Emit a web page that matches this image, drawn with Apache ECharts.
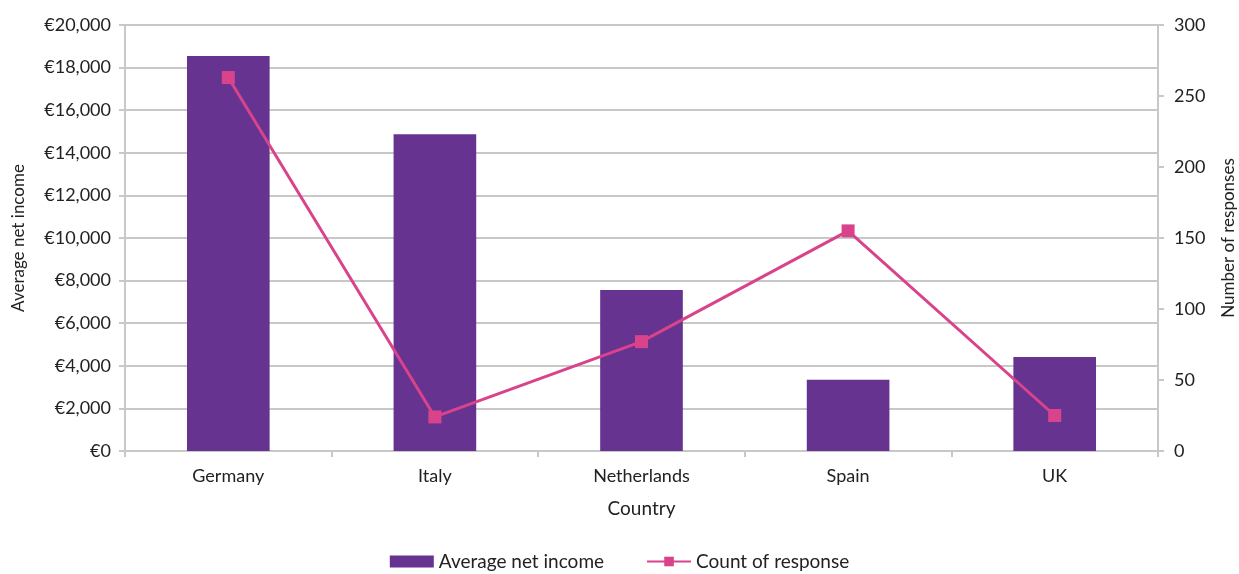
<!DOCTYPE html>
<html><head><meta charset="utf-8">
<script src="https://cdn.jsdelivr.net/npm/echarts@6/dist/echarts.min.js"></script>
<style>html,body{margin:0;padding:0;background:#fff}#c{width:1239px;height:574px}</style>
</head><body><div id="c"></div>
<script>
const categories = ["Germany", "Italy", "Netherlands", "Spain", "UK"];
const incomeValues = [18550, 14870, 7560, 3340, 4410];
const responseValues = [263, 24, 77, 155, 25];

const font = "Lato";
const chart = echarts.init(document.getElementById('c'));
chart.setOption({
  animation: false,
  textStyle: { fontFamily: font },
  grid: { left: 125, right: 81, top: 25, bottom: 123, containLabel: false, outerBoundsMode: 'none' },
  legend: {
    bottom: -2, left: 'center',
    itemWidth: 44, itemHeight: 12, itemGap: 42,
    textStyle: { fontFamily: font, fontSize: 19, color: '#222' },
    data: [
      { name: 'Average net income', icon: 'rect' },
      { name: 'Count of response' }
    ]
  },
  xAxis: {
    type: 'category', data: categories,
    name: 'Country', nameLocation: 'middle', nameGap: 48,
    nameTextStyle: { fontFamily: font, fontSize: 19, color: '#222' },
    axisLine: { lineStyle: { color: '#c8c8c8', width: 2 } },
    axisTick: { show: true, length: 6, lineStyle: { color: '#c8c8c8', width: 2 } },
    axisLabel: { fontFamily: font, fontSize: 18, color: '#222', margin: 16 }
  },
  yAxis: [
    {
      type: 'value', min: 0, max: 20000, interval: 2000,
      name: 'Average net income', nameLocation: 'middle', nameGap: 98, nameRotate: 90,
      nameTextStyle: { fontFamily: font, fontSize: 17, color: '#222' },
      axisLine: { show: true, lineStyle: { color: '#c8c8c8', width: 2 } },
      axisTick: { show: true, length: 6, lineStyle: { color: '#c8c8c8', width: 2 } },
      splitLine: { lineStyle: { color: '#c8c8c8', width: 2 } },
      axisLabel: { fontFamily: font, fontSize: 18, color: '#222', margin: 14,
        formatter: v => '€' + v.toLocaleString('en-US') }
    },
    {
      type: 'value', min: 0, max: 300, interval: 50, position: 'right',
      name: 'Number of responses', nameLocation: 'middle', nameGap: 62, nameRotate: 90,
      nameTextStyle: { fontFamily: font, fontSize: 17, color: '#222' },
      axisLine: { show: true, lineStyle: { color: '#c8c8c8', width: 2 } },
      axisTick: { show: true, length: 6, lineStyle: { color: '#c8c8c8', width: 2 } },
      splitLine: { show: false },
      axisLabel: { fontFamily: font, fontSize: 18, color: '#222', margin: 16 }
    }
  ],
  series: [
    {
      name: 'Average net income', type: 'bar', data: incomeValues,
      barWidth: '40%',
      itemStyle: { color: '#663391' }
    },
    {
      name: 'Count of response', type: 'line', yAxisIndex: 1, data: responseValues,
      symbol: 'rect', symbolSize: 13,
      lineStyle: { color: '#d9438c', width: 3 },
      itemStyle: { color: '#d9438c' }
    }
  ]
});
</script></body></html>
